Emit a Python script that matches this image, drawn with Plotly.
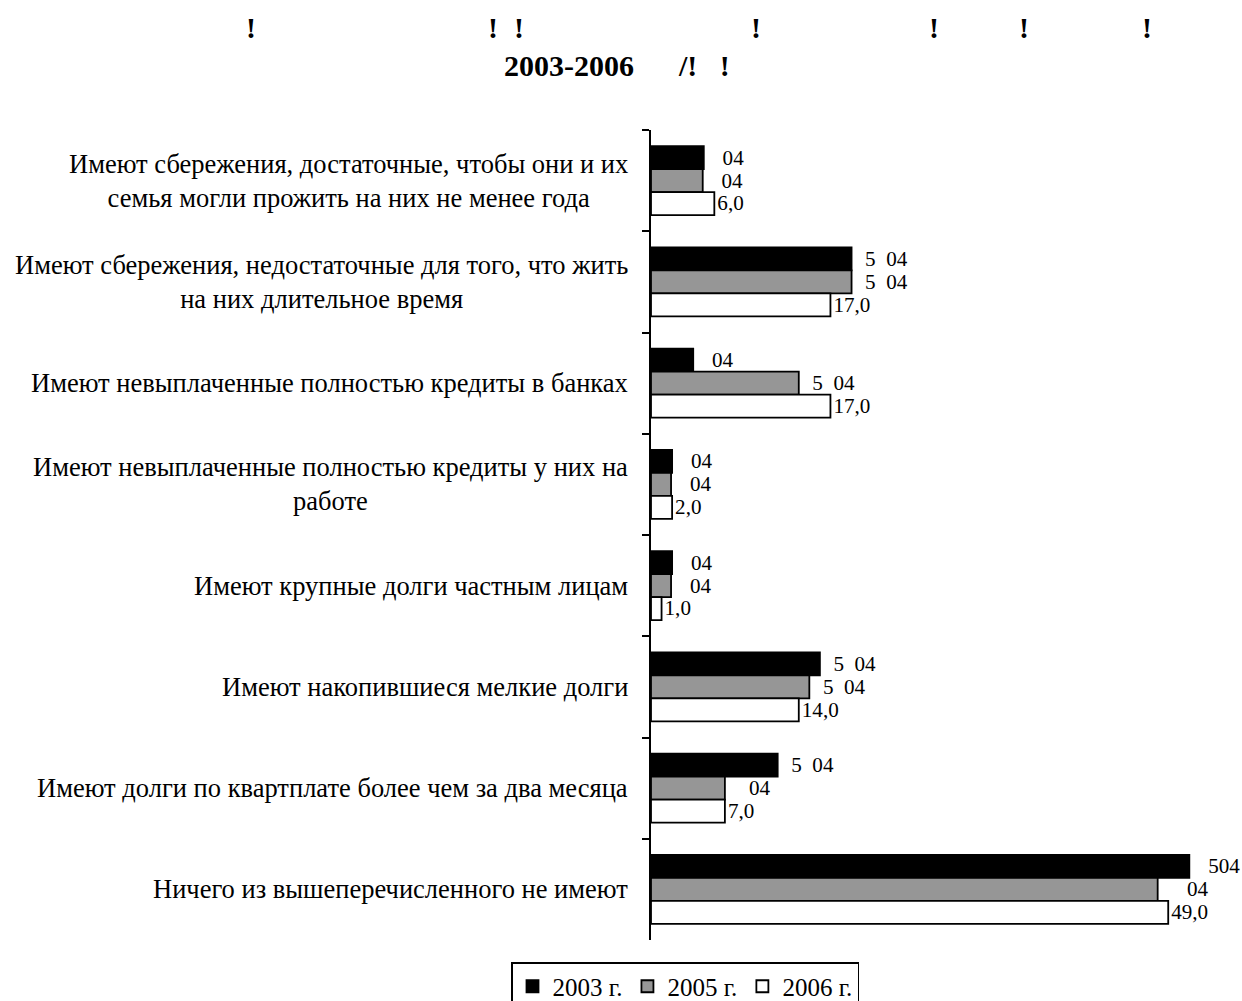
import plotly.graph_objects as go

categories = [
    "Имеют сбережения, достаточные, чтобы они и их<br>семья могли прожить на них не менее года",
    "Имеют сбережения, недостаточные для того, что жить<br>на них длительное время",
    "Имеют невыплаченные полностью кредиты в банках",
    "Имеют невыплаченные полностью кредиты у них на<br>работе",
    "Имеют крупные долги частным лицам",
    "Имеют накопившиеся мелкие долги",
    "Имеют долги по квартплате более чем за два месяца",
    "Ничего из вышеперечисленного не имеют",
]

series_names = ["2003 г.", "2005 г.", "2006 г."]
values_2003 = [5.0, 19.0, 4.0, 2.0, 2.0, 16.0, 12.0, 51.0]
values_2005 = [4.9, 19.0, 14.0, 1.9, 1.9, 15.0, 7.0, 48.0]
values_2006 = [6.0, 17.0, 17.0, 2.0, 1.0, 14.0, 7.0, 49.0]

NB = "\u00a0"
labels_2003 = [NB*3 + "04", NB*2 + "5" + NB*2 + "04", NB*3 + "04", NB*3 + "04",
               NB*3 + "04", NB*2 + "5" + NB*2 + "04", NB*2 + "5" + NB*2 + "04", NB*3 + "504"]
labels_2005 = [NB*3 + "04", NB*2 + "5" + NB*2 + "04", NB*2 + "5" + NB*2 + "04", NB*3 + "04",
               NB*3 + "04", NB*2 + "5" + NB*2 + "04", NB*4 + "04", NB*5 + "04"]
labels_2006 = ["6,0", "17,0", "17,0", "2,0", "1,0", "14,0", "7,0", "49,0"]

title_line2 = "2003-2006" + NB*6 + "/!" + NB*3 + "!"

FONT = "Liberation Serif, Times New Roman, serif"
colors = ["#000000", "#969696", "#ffffff"]

fig = go.Figure()
for name, vals, labs, col in zip(series_names, [values_2003, values_2005, values_2006],
                                 [labels_2003, labels_2005, labels_2006], colors):
    fig.add_trace(go.Bar(
        name=name, y=categories, x=vals, orientation="h",
        marker=dict(color=col, line=dict(color="#000000", width=1.8)),
        text=labs, textposition="outside", cliponaxis=False,
        textfont=dict(family=FONT, size=23, color="#000000"),
    ))

W, H = 1242, 1001
L = 651
T = 130
R = W - 1221
B = H - 940
pw = W - L - R
ph = H - T - B

def px_x(px):
    return (px - L) / pw

def px_y(py):
    return (H - B - py) / ph

annotations = []
for c in categories:
    annotations.append(dict(
        xref="paper", yref="y", x=px_x(630), y=c, xanchor="right", yanchor="middle",
        text=c, showarrow=False, align="center",
        font=dict(family=FONT, size=26.5, color="#000000"),
    ))

for xpx in [251, 493, 519, 756, 934, 1024, 1147]:
    annotations.append(dict(
        xref="paper", yref="paper", x=px_x(xpx), y=px_y(28),
        text="<b>!</b>", showarrow=False, xanchor="center", yanchor="middle",
        font=dict(family=FONT, size=30, color="#000000"),
    ))
annotations.append(dict(
    xref="paper", yref="paper", x=px_x(617), y=px_y(66),
    text="<b>" + title_line2 + "</b>", showarrow=False, xanchor="center", yanchor="middle",
    font=dict(family=FONT, size=30, color="#000000"),
))

fig.update_layout(
    width=W, height=H,
    margin=dict(l=L, r=R, t=T, b=B, autoexpand=False),
    paper_bgcolor="white", plot_bgcolor="white",
    barmode="group", bargap=0.32, bargroupgap=0,
    font=dict(family=FONT, color="#000000"),
    xaxis=dict(range=[0, 54], visible=False, showgrid=False, zeroline=False),
    yaxis=dict(autorange="reversed", showticklabels=False, showgrid=False, zeroline=False,
               showline=True, linecolor="#000000", linewidth=2,
               ticks="outside", ticklen=7, tickwidth=2, tickcolor="#000000",
               tickson="boundaries"),
    legend=dict(orientation="h", x=px_x(685), xanchor="center",
                y=px_y(962), yanchor="top", bordercolor="#000000", borderwidth=1.5,
                font=dict(family=FONT, size=25, color="#000000"),
                itemwidth=30, traceorder="normal"),
    annotations=annotations,
    showlegend=True,
)

fig.write_html(
    "out.html",
    config={"displayModeBar": False},
    post_script="document.documentElement.style.margin='0';document.body.style.margin='0';"
                "document.body.style.overflow='hidden';",
)
